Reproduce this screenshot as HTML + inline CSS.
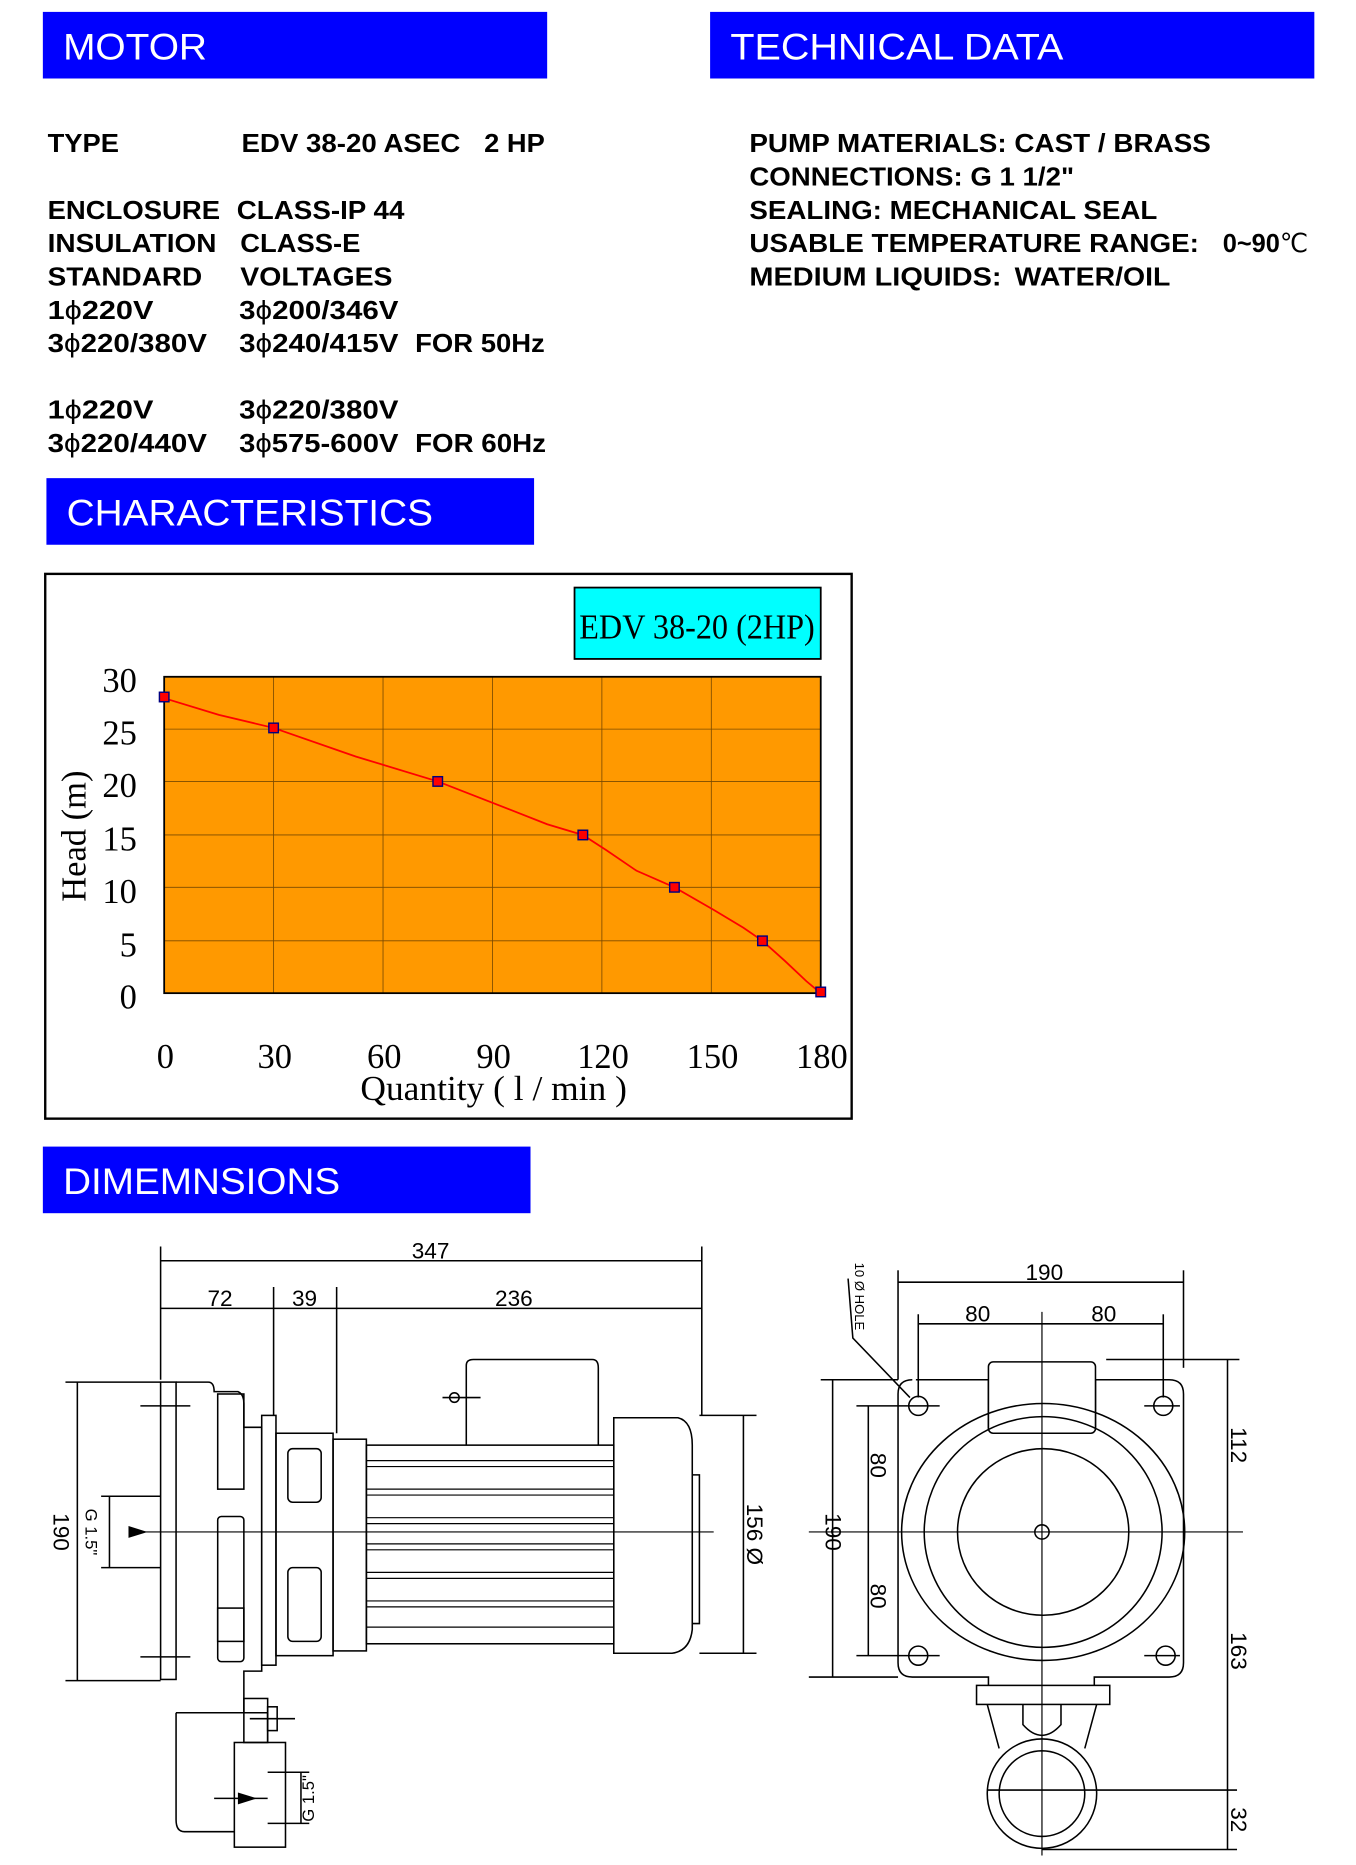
<!DOCTYPE html>
<html><head><meta charset="utf-8"><style>html,body{margin:0;padding:0;background:#fff}svg{display:block}</style></head>
<body>
<svg width="1356" height="1865" viewBox="0 0 1140 1568" xmlns="http://www.w3.org/2000/svg">
<rect width="1140" height="1568" fill="#fff"/>
<g font-family="Liberation Sans, Arial, sans-serif">
<rect x="36" y="10" width="424" height="56" fill="#0000ff"/>
<text x="53" y="50" font-size="31" fill="#fff" textLength="121" lengthAdjust="spacingAndGlyphs">MOTOR</text>
<rect x="597" y="10" width="508" height="56" fill="#0000ff"/>
<text x="614" y="50" font-size="31" fill="#fff" textLength="280" lengthAdjust="spacingAndGlyphs">TECHNICAL DATA</text>
<rect x="39" y="402" width="410" height="56" fill="#0000ff"/>
<text x="56" y="442" font-size="31" fill="#fff" textLength="308" lengthAdjust="spacingAndGlyphs">CHARACTERISTICS</text>
<rect x="36" y="964" width="410" height="56" fill="#0000ff"/>
<text x="53" y="1004" font-size="31" fill="#fff" textLength="233" lengthAdjust="spacingAndGlyphs">DIMEMNSIONS</text>
<g font-weight="bold" font-size="22" fill="#000" lengthAdjust="spacingAndGlyphs">
<text x="40" y="128" textLength="60" lengthAdjust="spacingAndGlyphs">TYPE</text><text x="203" y="128" textLength="184" lengthAdjust="spacingAndGlyphs">EDV 38-20 ASEC</text><text x="407" y="128" textLength="51" lengthAdjust="spacingAndGlyphs">2 HP</text>
<text x="40" y="184" textLength="145" lengthAdjust="spacingAndGlyphs">ENCLOSURE</text><text x="199" y="184" textLength="141" lengthAdjust="spacingAndGlyphs">CLASS-IP 44</text>
<text x="40" y="212" textLength="142" lengthAdjust="spacingAndGlyphs">INSULATION</text><text x="202" y="212" textLength="101" lengthAdjust="spacingAndGlyphs">CLASS-E</text>
<text x="40" y="240" textLength="130" lengthAdjust="spacingAndGlyphs">STANDARD</text><text x="202" y="240" textLength="128" lengthAdjust="spacingAndGlyphs">VOLTAGES</text>
<text x="40" y="268" textLength="89" lengthAdjust="spacingAndGlyphs">1<tspan font-weight="normal">ϕ</tspan>220V</text><text x="201" y="268" textLength="134" lengthAdjust="spacingAndGlyphs">3<tspan font-weight="normal">ϕ</tspan>200/346V</text>
<text x="40" y="296" textLength="134" lengthAdjust="spacingAndGlyphs">3<tspan font-weight="normal">ϕ</tspan>220/380V</text><text x="201" y="296" textLength="134" lengthAdjust="spacingAndGlyphs">3<tspan font-weight="normal">ϕ</tspan>240/415V</text><text x="349" y="296" textLength="109" lengthAdjust="spacingAndGlyphs">FOR 50Hz</text>
<text x="40" y="352" textLength="89" lengthAdjust="spacingAndGlyphs">1<tspan font-weight="normal">ϕ</tspan>220V</text><text x="201" y="352" textLength="134" lengthAdjust="spacingAndGlyphs">3<tspan font-weight="normal">ϕ</tspan>220/380V</text>
<text x="40" y="380" textLength="134" lengthAdjust="spacingAndGlyphs">3<tspan font-weight="normal">ϕ</tspan>220/440V</text><text x="201" y="380" textLength="134" lengthAdjust="spacingAndGlyphs">3<tspan font-weight="normal">ϕ</tspan>575-600V</text><text x="349" y="380" textLength="110" lengthAdjust="spacingAndGlyphs">FOR 60Hz</text>
<text x="630" y="128" textLength="388" lengthAdjust="spacingAndGlyphs">PUMP MATERIALS: CAST / BRASS</text>
<text x="630" y="156" textLength="273" lengthAdjust="spacingAndGlyphs">CONNECTIONS: G 1 1/2"</text>
<text x="630" y="184" textLength="343" lengthAdjust="spacingAndGlyphs">SEALING: MECHANICAL SEAL</text>
<text x="630" y="212" textLength="378" lengthAdjust="spacingAndGlyphs">USABLE TEMPERATURE RANGE:</text><text x="1028" y="212" textLength="72" lengthAdjust="spacingAndGlyphs">0~90<tspan font-weight="normal">℃</tspan></text>
<text x="630" y="240" textLength="212" lengthAdjust="spacingAndGlyphs">MEDIUM LIQUIDS:</text><text x="853" y="240" textLength="131" lengthAdjust="spacingAndGlyphs">WATER/OIL</text>
</g>
</g>
<!-- chart -->
<rect x="38" y="482.5" width="678" height="458" fill="#fff" stroke="#000" stroke-width="2"/>
<rect x="483" y="494" width="207" height="60" fill="#00ffff" stroke="#000" stroke-width="1.5"/>
<g font-family="Liberation Serif, serif" fill="#000">
<text x="586" y="537" font-size="29" text-anchor="middle" textLength="198" lengthAdjust="spacingAndGlyphs">EDV 38-20 (2HP)</text>
</g>
<rect x="138" y="569" width="552" height="266" fill="#ff9900"/>
<g stroke="#7a4a00" stroke-width="0.7">
<line x1="230" y1="569" x2="230" y2="835"/><line x1="322" y1="569" x2="322" y2="835"/><line x1="414" y1="569" x2="414" y2="835"/><line x1="506" y1="569" x2="506" y2="835"/><line x1="598" y1="569" x2="598" y2="835"/>
<line x1="138" y1="613" x2="690" y2="613"/><line x1="138" y1="657" x2="690" y2="657"/><line x1="138" y1="702" x2="690" y2="702"/><line x1="138" y1="746" x2="690" y2="746"/><line x1="138" y1="791" x2="690" y2="791"/>
</g>
<rect x="138" y="569" width="552" height="266" fill="none" stroke="#000" stroke-width="1.5"/>
<polyline fill="none" stroke="#ff0000" stroke-width="1.5" points="138,587 184,601 230,612 299,636 368,657 427,680 460,693 490,702 510,715 535,732 567,746 600,765 625,780 641,791 660,808 678,825 690,835"/>
<g fill="#ff0000" stroke="#000080" stroke-width="1.2">
<rect x="134" y="582" width="8" height="8"/><rect x="226" y="608" width="8" height="8"/><rect x="364" y="653" width="8" height="8"/><rect x="486" y="698" width="8" height="8"/><rect x="563" y="742" width="8" height="8"/><rect x="637" y="787" width="8" height="8"/><rect x="686" y="830" width="8" height="8"/>
</g>
<g font-family="Liberation Serif, serif" font-size="29" fill="#000">
<g text-anchor="end">
<text x="115" y="582">30</text><text x="115" y="626">25</text><text x="115" y="670">20</text><text x="115" y="715">15</text><text x="115" y="759">10</text><text x="115" y="804">5</text><text x="115" y="848">0</text>
</g>
<g text-anchor="middle">
<text x="139" y="898">0</text><text x="231" y="898">30</text><text x="323" y="898">60</text><text x="415" y="898">90</text><text x="507" y="898">120</text><text x="599" y="898">150</text><text x="691" y="898">180</text>
<text x="415" y="925" font-size="29" textLength="224" lengthAdjust="spacingAndGlyphs">Quantity ( l / min )</text>
<text transform="translate(72,703) rotate(-90)" font-size="29">Head (m)</text>
</g>
</g>
<!-- left drawing -->
<g fill="none" stroke="#000" stroke-width="1.3">
<line x1="135" y1="1048" x2="135" y2="1160"/><line x1="590" y1="1048" x2="590" y2="1190"/>
<line x1="135" y1="1060" x2="590" y2="1060"/>
<line x1="135" y1="1100" x2="590" y2="1100"/>
<line x1="230" y1="1082" x2="230" y2="1190"/><line x1="283" y1="1082" x2="283" y2="1205"/>
<rect x="135" y="1162" width="13" height="250"/>
<path d="M148,1162 H175 Q180,1162 180,1170 H200 Q205,1172 205,1180 V1200 H220 V1405 H205 V1440 H148"/>
<rect x="183" y="1172" width="22" height="80"/><rect x="183" y="1275" width="22" height="122" rx="3"/><rect x="183" y="1352" width="22" height="28"/>
<rect x="220" y="1190" width="12" height="210"/>
<rect x="232" y="1205" width="48" height="187"/>
<rect x="242" y="1218" width="28" height="45" rx="4"/><rect x="242" y="1318" width="28" height="62" rx="4"/>
<rect x="280" y="1210" width="28" height="178"/>
<rect x="308" y="1215" width="208" height="167"/>
<g stroke-width="1">
<line x1="308" y1="1228" x2="516" y2="1228"/><line x1="308" y1="1233" x2="516" y2="1233"/>
<line x1="308" y1="1252" x2="516" y2="1252"/><line x1="308" y1="1257" x2="516" y2="1257"/>
<line x1="308" y1="1276" x2="516" y2="1276"/><line x1="308" y1="1281" x2="516" y2="1281"/>
<line x1="308" y1="1298" x2="516" y2="1298"/><line x1="308" y1="1303" x2="516" y2="1303"/>
<line x1="308" y1="1322" x2="516" y2="1322"/><line x1="308" y1="1327" x2="516" y2="1327"/>
<line x1="308" y1="1346" x2="516" y2="1346"/><line x1="308" y1="1351" x2="516" y2="1351"/>
<line x1="308" y1="1368" x2="516" y2="1368"/>
</g>
<path d="M392,1215 V1148 Q392,1143 398,1143 H498 Q503,1143 503,1150 V1215"/>
<line x1="372" y1="1175" x2="404" y2="1175"/><circle cx="382" cy="1175" r="4"/>
<path d="M516,1192 H570 Q582,1195 582,1215 V1370 Q580,1388 565,1390 H516 Z"/>
<path d="M582,1240 H588 V1365 H582"/>
<path d="M148,1440 V1530 Q148,1540 155,1540 H197"/><path d="M148,1440 H225 V1465"/>
<rect x="197" y="1465" width="43" height="88"/>
<rect x="205" y="1428" width="20" height="37"/><rect x="225" y="1435" width="8" height="20"/><line x1="210" y1="1445" x2="248" y2="1445"/>
<line x1="55" y1="1162" x2="135" y2="1162"/><line x1="55" y1="1413" x2="135" y2="1413"/><line x1="65" y1="1162" x2="65" y2="1413"/>
<line x1="85" y1="1258" x2="135" y2="1258"/><line x1="85" y1="1318" x2="135" y2="1318"/><line x1="92" y1="1258" x2="92" y2="1318"/>
<line x1="588" y1="1190" x2="636" y2="1190"/><line x1="588" y1="1390" x2="636" y2="1390"/><line x1="625" y1="1190" x2="625" y2="1390"/>
<line x1="225" y1="1490" x2="260" y2="1490"/><line x1="225" y1="1533" x2="260" y2="1533"/><line x1="253" y1="1490" x2="253" y2="1533"/>
<line x1="118" y1="1182" x2="160" y2="1182"/><line x1="118" y1="1393" x2="160" y2="1393"/>
<line x1="110" y1="1288" x2="600" y2="1288" stroke-width="1"/>
<line x1="180" y1="1512" x2="225" y2="1512"/>
</g>
<path d="M108,1283 L124,1288 L108,1293 Z M200,1507 L216,1512 L200,1517 Z"/>
<g font-family="Liberation Sans, sans-serif" font-size="19" fill="#000" text-anchor="middle">
<text x="362" y="1058">347</text><text x="185" y="1098">72</text><text x="256" y="1098">39</text><text x="432" y="1098">236</text>
<text transform="translate(45,1288) rotate(90)">190</text>
<text transform="translate(72,1288) rotate(90)" font-size="14">G 1.5"</text>
<text transform="translate(628,1290) rotate(90)">156 Ø</text>
<text transform="translate(264,1512) rotate(-90)" font-size="14">G 1.5"</text>
</g>
<!-- right drawing -->
<g fill="none" stroke="#000" stroke-width="1.3">
<path d="M770,1160 H831 V1201 M921,1201 V1160 H983 Q995,1160 995,1172 V1398 Q995,1410 983,1410 H920 V1417 M831,1417 V1410 H767 Q755,1410 755,1398 V1172 Q755,1160 767,1160"/>
<rect x="831" y="1145" width="90" height="60" rx="4" fill="#fff"/>
<ellipse cx="877" cy="1288" rx="119" ry="108"/>
<ellipse cx="877" cy="1288" rx="100" ry="97"/>
<ellipse cx="877" cy="1288" rx="72" ry="70"/>
<circle cx="876" cy="1288" r="6"/>
<circle cx="772" cy="1182" r="8"/><circle cx="978" cy="1182" r="8"/><circle cx="772" cy="1392" r="8"/><circle cx="980" cy="1392" r="8"/>
<line x1="760" y1="1182" x2="790" y2="1182"/><line x1="962" y1="1182" x2="992" y2="1182"/><line x1="760" y1="1392" x2="790" y2="1392"/><line x1="962" y1="1392" x2="992" y2="1392"/>
<rect x="821" y="1417" width="112" height="16"/>
<path d="M830,1433 L840,1470 M922,1433 L912,1470"/>
<path d="M860,1433 V1450 Q876,1468 892,1450 V1433"/>
<circle cx="876" cy="1508" r="46"/><circle cx="876" cy="1508" r="36"/>
<line x1="876" y1="1103" x2="876" y2="1560" stroke-width="1"/>
<line x1="680" y1="1288" x2="1045" y2="1288" stroke-width="1"/>
<line x1="755" y1="1068" x2="755" y2="1160"/><line x1="995" y1="1068" x2="995" y2="1150"/><line x1="755" y1="1078" x2="995" y2="1078"/>
<line x1="772" y1="1105" x2="772" y2="1175"/><line x1="978" y1="1105" x2="978" y2="1175"/><line x1="772" y1="1113" x2="978" y2="1113"/>
<line x1="690" y1="1160" x2="755" y2="1160"/><line x1="680" y1="1410" x2="755" y2="1410"/><line x1="700" y1="1160" x2="700" y2="1410"/>
<line x1="720" y1="1182" x2="760" y2="1182"/><line x1="720" y1="1392" x2="760" y2="1392"/><line x1="730" y1="1182" x2="730" y2="1392"/>
<line x1="930" y1="1143" x2="1042" y2="1143"/><line x1="1032" y1="1143" x2="1032" y2="1555"/>
<line x1="830" y1="1505" x2="1040" y2="1505"/><line x1="876" y1="1555" x2="1040" y2="1555"/>
<path d="M713,1075 L717,1125 L765,1175"/>
</g>
<g font-family="Liberation Sans, sans-serif" font-size="19" fill="#000" text-anchor="middle">
<text x="878" y="1076">190</text><text x="822" y="1111">80</text><text x="928" y="1111">80</text>
<text transform="translate(694,1288) rotate(90)">190</text>
<text transform="translate(732,1232) rotate(90)">80</text><text transform="translate(732,1342) rotate(90)">80</text>
<text transform="translate(1035,1215) rotate(90)">112</text><text transform="translate(1035,1388) rotate(90)">163</text><text transform="translate(1035,1530) rotate(90)">32</text>
<text transform="translate(719,1090) rotate(90)" font-size="11">10 Ø HOLE</text>
</g>
</svg>
</body></html>
